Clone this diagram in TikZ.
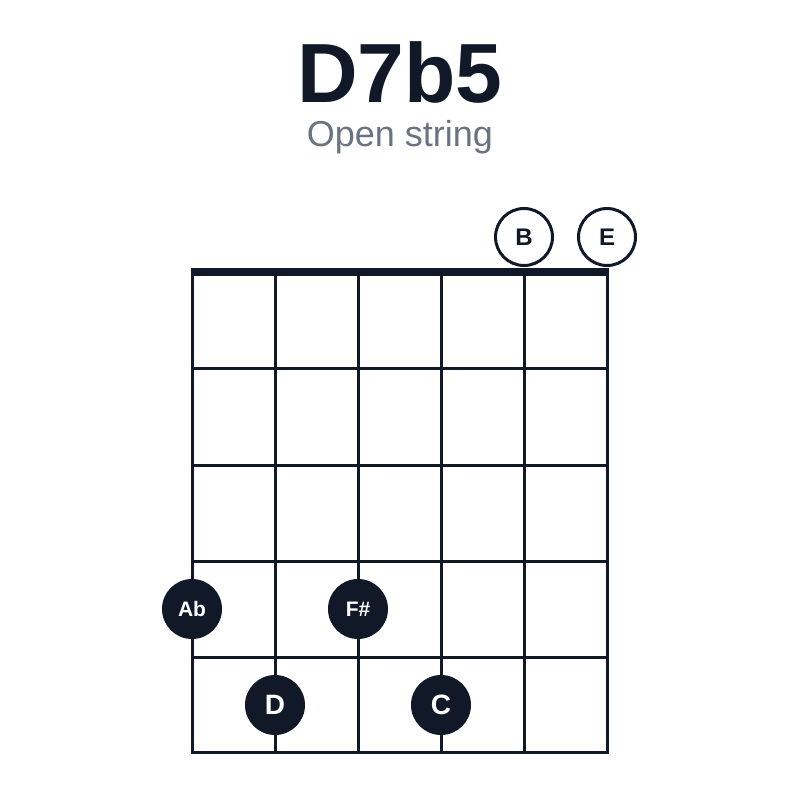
\documentclass[tikz,border=0pt]{standalone}
\usepackage{fontspec}
\setmainfont{Liberation Sans}
\definecolor{ink}{HTML}{111827}
\definecolor{sub}{HTML}{6B7280}
\begin{document}
\begin{tikzpicture}[x=1pt,y=-1pt,
  gridline/.style={draw=ink,line width=3pt},
  nutline/.style={draw=ink,line width=8pt},
  fingerdot/.style={circle,fill=ink,minimum size=60pt,inner sep=0pt,text=white},
  opendot/.style={circle,draw=ink,line width=3pt,fill=white,minimum size=57pt,inner sep=0pt,text=ink,font=\bfseries\fontsize{24}{24}\selectfont}]
\useasboundingbox (0,0) rectangle (800,800);
\node[font=\bfseries\fontsize{84}{84}\selectfont,text=ink] (title) at (400,72) {D7b5};
\node[font=\fontsize{36}{36}\selectfont,text=sub] (subtitle) at (400,137) {Open string};
% strings
\foreach \i/\x in {1/192,2/275,3/358,4/441,5/524,6/607}{
  \coordinate (s\i t) at (\x,272);
  \coordinate (s\i b) at (\x,752);
  \draw[gridline] (s\i t) -- (s\i b);
}
% frets
\foreach \j/\y in {1/368,2/465,3/561,4/657,5/752}{
  \coordinate (f\j l) at (190.5,\y);
  \coordinate (f\j r) at (608.5,\y);
  \draw[gridline] (f\j l) -- (f\j r);
}
\coordinate (nutl) at (190.5,272);
\coordinate (nutr) at (608.5,272);
\draw[nutline] (nutl) -- (nutr);
% open strings
\node[opendot] (oB) at (524,237) {B};
\node[opendot] (oE) at (607,237) {E};
% fingers
\node[fingerdot,font=\bfseries\fontsize{21}{21}\selectfont] (ab) at (192,609) {Ab};
\node[fingerdot,font=\bfseries\fontsize{21}{21}\selectfont] (fs) at (358,609) {F\#};
\node[fingerdot,font=\bfseries\fontsize{28}{28}\selectfont] (d) at (275,705) {D};
\node[fingerdot,font=\bfseries\fontsize{28}{28}\selectfont] (c) at (441,705) {C};
\end{tikzpicture}
\end{document}
